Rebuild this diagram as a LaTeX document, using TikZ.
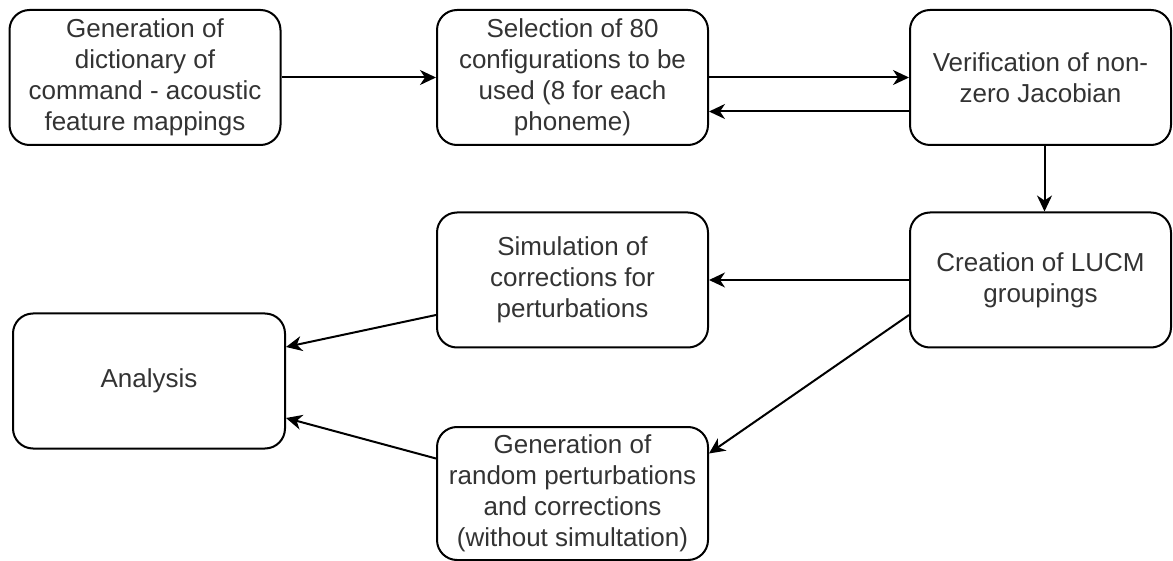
\documentclass[tikz,border=0pt]{standalone}
\usepackage{fontspec}
\setmainfont{Liberation Sans}
\usetikzlibrary{arrows.meta}

\begin{document}
\begin{tikzpicture}[x=1pt, y=-1pt,
            stepbox/.style={draw, rounded corners=20pt, line width=2pt, align=center,
              minimum width=271pt, minimum height=135pt, inner sep=2pt,
              text=black!80, font=\fontsize{26}{31}\selectfont},
            flow/.style={line width=2pt, -{Stealth[length=16pt, width=15pt, inset=5pt]}}]
            \useasboundingbox (0,0) rectangle (1173,561);

            % Define positions of the steps
            \node[stepbox] (gen) at (145, 77.5) {Generation of\\dictionary of\\command - acoustic\\feature mappings};
            \node[stepbox] (sel) at (572.5, 77.5) {Selection of 80\\configurations to be\\used (8 for each\\phoneme)};
            \node[stepbox, minimum width=261pt] (ver) at (1040.5, 77.5) {Verification of non-\\zero Jacobian};
            \node[stepbox, minimum width=261pt] (lucm) at (1040.5, 280) {Creation of LUCM\\groupings};
            \node[stepbox] (sim) at (572.5, 280) {Simulation of\\corrections for\\perturbations};
            \node[stepbox, minimum width=272pt] (ana) at (149, 381) {Analysis};
            \node[stepbox, minimum height=133pt] (rnd) at (572.5, 493.5) {Generation of\\random perturbations\\and corrections\\(without simultation)};

            % draw the connections between the steps
            \draw[flow] (gen) -- (sel);
            \draw[flow] (sel) -- (ver);
            \draw[flow] ([yshift=-34pt]ver.west) -- ([yshift=-34pt]sel.east);
            \draw[flow] ([xshift=4pt]ver.south) -- ([xshift=4pt]lucm.north);
            \draw[flow] (lucm) -- (sim);
            \draw[flow] ([yshift=-35pt]lucm.west) -- ([yshift=40pt]rnd.east);
            \draw[flow] ([yshift=-35pt]sim.west) -- ([yshift=34pt]ana.east);
            \draw[flow] ([yshift=35pt]rnd.west) -- ([yshift=-37pt]ana.east);
        \end{tikzpicture}
\end{document}
